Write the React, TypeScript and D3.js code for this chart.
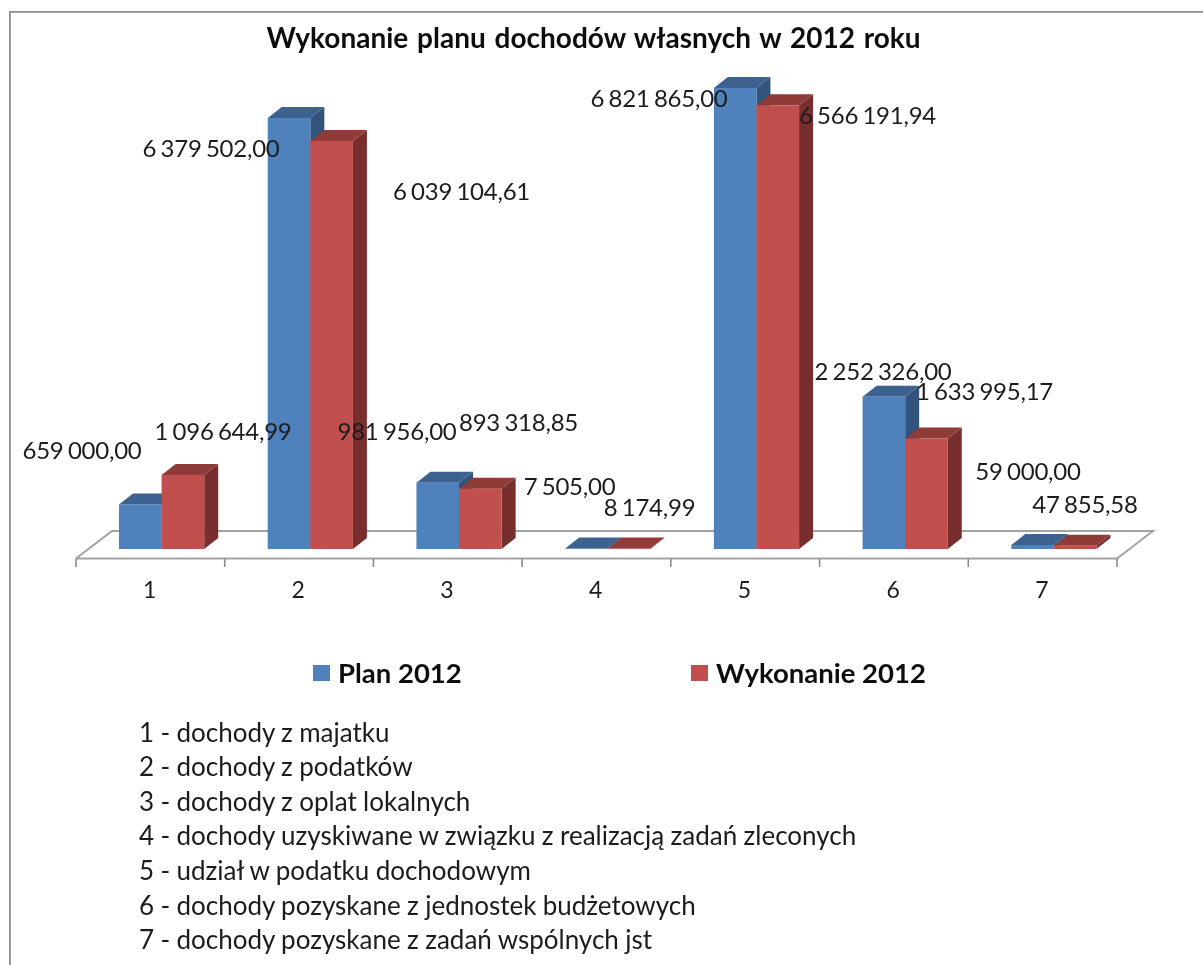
import React from "react";
import * as d3 from "d3";

const chartTitle = "Wykonanie planu dochodów własnych w 2012 roku";
const categories = ["1", "2", "3", "4", "5", "6", "7"];
const planValues = [659000, 6379502, 981956, 7505, 6821865, 2252326, 59000];
const execValues = [1096644.99, 6039104.61, 893318.85, 8174.99, 6566191.94, 1633995.17, 47855.58];
const planLabels = ["659 000,00", "6 379 502,00", "981 956,00", "7 505,00", "6 821 865,00", "2 252 326,00", "59 000,00"];
const execLabels = ["1 096 644,99", "6 039 104,61", "893 318,85", "8 174,99", "6 566 191,94", "1 633 995,17", "47 855,58"];
const seriesNames = ["Plan 2012", "Wykonanie 2012"];
const notes = [
  "1 - dochody z majatku",
  "2 - dochody z podatków",
  "3 - dochody z oplat lokalnych",
  "4 - dochody uzyskiwane w związku z realizacją zadań zleconych",
  "5 - udział w podatku dochodowym",
  "6 - dochody pozyskane z jednostek budżetowych",
  "7 - dochody pozyskane z zadań wspólnych jst",
];

// layout only: label centre / baseline
const planLabelPos = [[82, 459], [211, 157], [397, 440], [569.5, 495], [659, 107], [883, 380], [1028, 480]];
const execLabelPos = [[223, 440], [461.5, 200], [518.5, 431], [649.5, 516], [867.5, 124], [984.5, 400], [1085, 513]];
const noteBaselines = [742, 776, 811, 845, 880, 915, 949];

const FONT = "Lato, 'Open Sans', sans-serif";
const INK = "#1c1c1c";
const BLUE = { front: "#4F81BD", top: "#3C6290", side: "#31527B" };
const RED = { front: "#C0504D", top: "#8F3B39", side: "#792F2E" };
const BASE_Y = 549;
const DX = 14;
const DY = 11;
const BAR_W = 42.6;
const BAR_OFFSET = 43;

const x = d3.scaleBand<string>().domain(categories).range([76, 1117]);
const y = d3.scaleLinear().domain([0, 7000000]).range([BASE_Y, BASE_Y - 473]);

function Bar({ left, value, c }: { left: number; value: number; c: typeof BLUE }) {
  const t = y(value);
  const r = left + BAR_W;
  const path = d3.path();
  path.moveTo(left, t);
  path.lineTo(left + DX, t - DY);
  path.lineTo(r + DX, t - DY);
  path.lineTo(r, t);
  path.closePath();
  const side = d3.path();
  side.moveTo(r, t);
  side.lineTo(r + DX, t - DY);
  side.lineTo(r + DX, BASE_Y - DY);
  side.lineTo(r, BASE_Y);
  side.closePath();
  return (
    <g>
      <path d={side.toString()} fill={c.side} />
      <path d={path.toString()} fill={c.top} />
      <rect x={left} y={t} width={BAR_W} height={BASE_Y - t} fill={c.front} />
    </g>
  );
}

export default function App() {
  const floorY = 558.5;
  const ticks = [...categories.map((c) => x(c) as number), x.range()[1]];
  const floor = d3.line()([
    [x.range()[0], floorY],
    [x.range()[0] + 36, 531],
    [x.range()[1] + 36, 531],
    [x.range()[1], floorY],
    [x.range()[0], floorY],
  ]) as string;
  return (
    <svg width={1203} height={965} style={{ position: "absolute", left: 0, top: 0, display: "block", background: "#fff" }} fontFamily={FONT}>
      <defs>
        <filter id="soft" x="0" y="0" width="100%" height="100%">
          <feGaussianBlur stdDeviation="0.6" />
        </filter>
      </defs>
      <g filter="url(#soft)">
        <path d="M1203,11.5 H9.5 V965" fill="none" stroke="#8c8c8c" strokeWidth={2.6} />
        <text x={593.5} y={48} textAnchor="middle" fontSize={28} fontWeight={700} wordSpacing={2} fill="#111">{chartTitle}</text>

        <path d={floor} fill="#fff" stroke="#a3a3a3" strokeWidth={2} />
        {ticks.map((t, i) => (
          <line key={i} x1={t} x2={t} y1={floorY} y2={567} stroke="#8c8c8c" strokeWidth={1.6} />
        ))}
        {categories.map((c) => (
          <text key={c} x={(x(c) as number) + x.bandwidth() / 2 - 0.8} y={598} textAnchor="middle" fontSize={23} fill={INK}>{c}</text>
        ))}

        {categories.map((c, i) => (
          <g key={c}>
            <Bar left={(x(c) as number) + BAR_OFFSET} value={planValues[i]} c={BLUE} />
            <Bar left={(x(c) as number) + BAR_OFFSET + BAR_W} value={execValues[i]} c={RED} />
          </g>
        ))}

        {planLabels.map((l, i) => (
          <text key={l} x={planLabelPos[i][0]} y={planLabelPos[i][1]} textAnchor="middle" fontSize={24} wordSpacing={-1.5} letterSpacing={-0.25} fill={INK}>{l}</text>
        ))}
        {execLabels.map((l, i) => (
          <text key={l} x={execLabelPos[i][0]} y={execLabelPos[i][1]} textAnchor="middle" fontSize={24} wordSpacing={-1.5} letterSpacing={-0.25} fill={INK}>{l}</text>
        ))}

        <rect x={313} y={665} width={17} height={16} fill={BLUE.front} />
        <text x={338} y={683} fontSize={27.5} fontWeight={700} fill="#111">{seriesNames[0]}</text>
        <rect x={691} y={665} width={17} height={16} fill={RED.front} />
        <text x={716} y={683} fontSize={27.5} fontWeight={700} fill="#111">{seriesNames[1]}</text>

        {notes.map((n, i) => (
          <text key={n} x={139} y={noteBaselines[i]} fontSize={26} wordSpacing={-0.3} fill={INK}>{n}</text>
        ))}
      </g>
    </svg>
  );
}
